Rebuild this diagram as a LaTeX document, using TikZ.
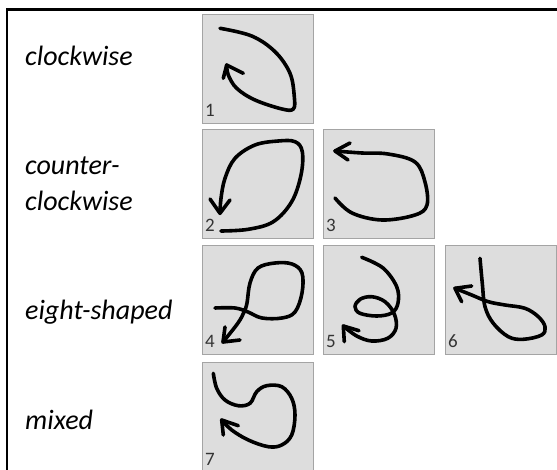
\documentclass[tikz,border=0pt]{standalone}
\usepackage{fontspec}
\setmainfont{Carlito}
\definecolor{panelfill}{HTML}{DDDDDD}
\definecolor{panelline}{HTML}{A4A4A4}
\definecolor{numgray}{HTML}{333333}
\begin{document}
\begin{tikzpicture}[x=1pt,y=-1pt,
  panel/.style={draw=panelline, fill=panelfill, line width=1.2pt,
    minimum width=111.5pt, minimum height=109pt, anchor=north west, inner sep=0pt},
  num/.style={anchor=base west, text=numgray, inner sep=0pt,
    font=\fontsize{19}{19}\selectfont},
  cat/.style={anchor=base west, inner sep=0pt,
    font=\fontsize{28}{34}\selectfont\itshape},
  ink/.style={line width=3.6pt, line cap=round, line join=round},
  stroke/.style={ink, smooth, tension=0.6},
]
\useasboundingbox (0,0) rectangle (557,470);
\clip (0,0) rectangle (557,470);
\fill[white] (0,0) rectangle (557,470);
\draw[line width=2.6pt] (7,9.3) rectangle (640,560);

% category labels
\node[cat] (lcw)  at (25,66)  {clockwise};
\node[cat] (lccw1) at (25,175) {counter-};
\node[cat] (lccw2) at (25,211) {clockwise};
\node[cat] (leight) at (25,320) {eight-shaped};
\node[cat] (lmixed) at (25,429) {mixed};

% gesture panels
\node[panel] (p1) at (201.5,14)  {};
\node[panel] (p2) at (201.5,129) {};
\node[panel] (p3) at (322.5,129) {};
\node[panel] (p4) at (201.5,245) {};
\node[panel] (p5) at (322.5,245) {};
\node[panel] (p6) at (444.5,245) {};
\node[panel] (p7) at (201.5,362) {};

% panel numbers
\foreach \p/\n in {p1/1,p2/2,p3/3,p4/4,p5/5,p6/6,p7/7}
  \node[num] (n\n) at ([shift={(3.5pt,-103pt)}]\p.north west) {\n};

% 1: clockwise
\draw[stroke] plot coordinates {(220,28.3) (251.7,36) (275,51.7) (290,73.3)
  (294.3,96.7) (293.3,109) (282,109) (255,100) (236.7,88.3) (228.3,75) (226.7,65)};
\draw[ink] (223.3,78.3) -- (226.7,65) -- (243.3,73.3);

% 2: counter-clockwise
\draw[stroke] plot coordinates {(221,231) (248.3,229.3) (273.3,221.7) (291.7,201.7)
  (301,175) (302.3,151.7) (295,141.7) (278.3,141) (255,145) (235,158.3)
  (225,178.3) (221,198.3) (220,213.3)};
\draw[ink] (210,199) -- (220,213.3) -- (230,200);

% 3: counter-clockwise
\draw[stroke] plot coordinates {(335,198) (352,213) (382,220) (415,215) (427,205)
  (425,182) (415,162) (388,154) (362,153) (335,151)};
\draw[ink] (350,143) -- (335,151) -- (348,160);

% 4: eight-shaped
\draw[stroke] plot coordinates {(215,308) (235,308) (248,312) (262,318) (282,318)
  (295,312) (302,293) (302,273) (292,264) (275,263) (258,268) (250,283)
  (247,303) (244,312) (238,323) (223,342)};
\draw[ink] (225,327) -- (223,342) -- (240,340);

% 5: eight-shaped
\draw[stroke] plot coordinates {(361.7,257.3) (383,268) (396.7,286.7) (398,303)
  (391.7,313) (376.7,316) (360,313.3) (355,306.7) (360,299.3) (371.7,296.7)
  (385,301.7) (394.3,314) (396,328.3) (387.7,338.3) (371.7,341) (356.7,336)
  (343.3,326)};
\draw[ink] (344.3,341.7) -- (343.3,326) -- (359,330.7);

% 6: eight-shaped
\draw[stroke] plot coordinates {(480,258.3) (482.3,283.3) (485,306.7) (493.3,323.3)
  (508.3,336.7) (523.3,339.3) (541.7,335) (545,326.7) (538.3,316.7) (525,308.3)
  (505,305) (488.3,301.7) (471.7,295) (455,288.3)};
\draw[ink] (471.7,286) -- (455,288.3) -- (461.7,301.7);

% 7: mixed
\draw[stroke] plot coordinates {(213.3,373.3) (216.7,388.3) (225,400) (238.3,405.7)
  (250,403.3) (256.7,391.7) (266.7,385.7) (281.7,386.7) (291.7,398.3) (295,415)
  (291.7,435) (281.7,445) (268.3,446.7) (248.3,440) (231.7,430) (221.7,420)};
\draw[ink] (223.3,435) -- (221.7,420) -- (238.3,425.7);
\end{tikzpicture}
\end{document}
